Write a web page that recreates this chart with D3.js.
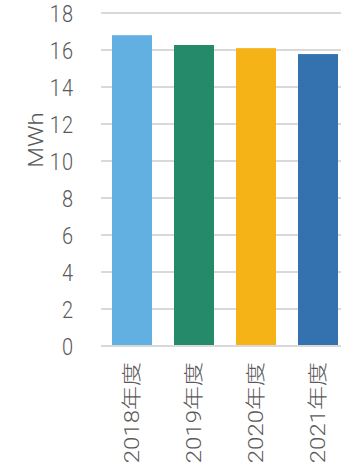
<!DOCTYPE html>
<html>
<head>
<meta charset="utf-8">
<script src="https://cdn.jsdelivr.net/npm/d3@7"></script>
<style>
  html, body { margin: 0; padding: 0; background: #ffffff; }
  svg { display: block; }
  text { font-family: Roboto, "Noto Sans CJK JP", sans-serif; font-weight: 300; fill: #595959; }
</style>
</head>
<body>
<svg id="chart" width="341" height="469"></svg>
<script>
// Annual electricity use per fiscal year (MWh)
const categories = ["2018年度", "2019年度", "2020年度", "2021年度"];
const values = [16.8, 16.27, 16.1, 15.78];
const barColors = ["#61B0E1", "#248A69", "#F5B318", "#3472AF"];
const yTicks = [0, 2, 4, 6, 8, 10, 12, 14, 16, 18];
const yTitle = "MWh";

const width = 341, height = 469;
const svg = d3.select("#chart");

// text is drawn slightly stretched vertically
const stretch = 1.2;
const fontSize = 20;

const y = d3.scaleLinear().domain([0, 18]).range([346, 13]);
const x = d3.scaleBand()
  .domain(categories)
  .range([101, 349])
  .paddingInner(0.355)
  .paddingOuter(0.1775);

// horizontal gridlines
svg.append("g")
  .selectAll("line")
  .data(yTicks)
  .join("line")
  .attr("x1", 101)
  .attr("x2", width)
  .attr("y1", d => y(d))
  .attr("y2", d => y(d))
  .attr("stroke", "#d9d9d9")
  .attr("stroke-width", 2);

// y-axis tick labels
const yAxis = d3.axisLeft(y).tickValues(yTicks).tickSize(0).tickPadding(0);
const gy = svg.append("g").attr("transform", "translate(74,0)").call(yAxis);
gy.select(".domain").remove();
gy.selectAll("text")
  .attr("font-size", fontSize)
  .attr("fill", "#595959")
  .attr("transform", `scale(1,${stretch})`)
  .attr("dy", "0.36em")
  .style("letter-spacing", "1px")
  .style("font-family", "Roboto, 'Noto Sans CJK JP', sans-serif")
  .style("font-weight", 300);

// bars
svg.append("g")
  .selectAll("rect")
  .data(values)
  .join("rect")
  .attr("x", (d, i) => x(categories[i]))
  .attr("width", x.bandwidth())
  .attr("y", d => y(d))
  .attr("height", d => y(0) - y(d))
  .attr("fill", (d, i) => barColors[i]);

// baseline
svg.append("line")
  .attr("x1", 101).attr("x2", width)
  .attr("y1", y(0)).attr("y2", y(0))
  .attr("stroke", "#d9d9d9").attr("stroke-width", 2);

// category labels, rotated
svg.append("g")
  .selectAll("text")
  .data(categories)
  .join("text")
  .attr("transform", d => `translate(${x(d) + x.bandwidth() / 2},362) scale(1,${stretch}) rotate(-90)`)
  .attr("text-anchor", "end")
  .attr("dy", "0.35em")
  .attr("font-size", fontSize)
  .text(d => d);

// y-axis title
svg.append("text")
  .attr("transform", `translate(36,140) scale(1,${stretch}) rotate(-90)`)
  .attr("text-anchor", "middle")
  .attr("dy", "0.35em")
  .attr("font-size", fontSize)
  .text(yTitle);
</script>
</body>
</html>
